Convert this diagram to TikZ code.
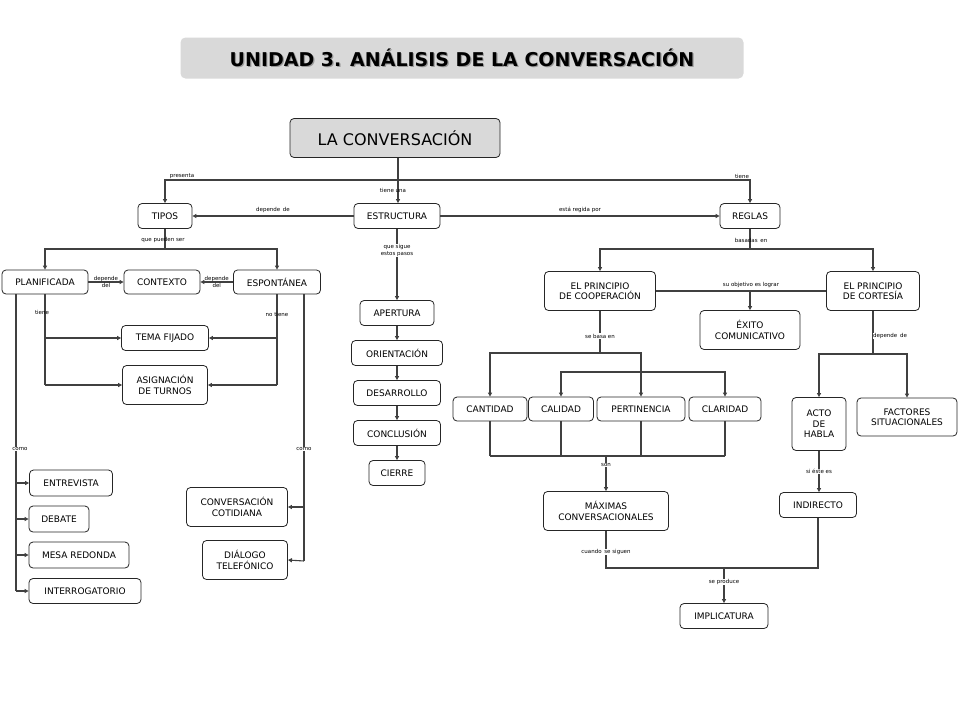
\documentclass[tikz,border=0pt]{standalone}
\usepackage{fontspec}
\setmainfont{DejaVu Sans}
\usetikzlibrary{arrows.meta}
\begin{document}
\begin{tikzpicture}[x=1pt,y=-1pt,
  bx/.style={draw=black!85,line width=0.8pt,rounded corners=4pt,fill=white,align=center,
    font=\fontsize{9}{10.5}\selectfont,inner sep=1pt},
  ln/.style={draw=black!75,line width=1.1pt},
  arr/.style={ln,-{Triangle[length=4pt,width=4pt]}},
  lb/.style={font=\fontsize{5.5}{6.5}\selectfont,inner sep=0.5pt,align=center}]
\useasboundingbox (0,0) rectangle (960,720);
\fill[white] (0,0) rectangle (960,720);
% title
\node[fill=black!15,rounded corners=5pt,minimum width=563,minimum height=41] (tb) at (462,58) {};
\node[text=black!40,font=\fontsize{19}{22}\bfseries\selectfont] at (463.2,59.2) {UNIDAD 3. ANÁLISIS DE LA CONVERSACIÓN};
\node[font=\fontsize{19}{22}\bfseries\selectfont] (title) at (462,58) {UNIDAD 3. ANÁLISIS DE LA CONVERSACIÓN};
\node[bx,fill=black!15,font=\fontsize{16}{18}\selectfont,minimum width=210,minimum height=39] (conv) at (395,138) {LA CONVERSACIÓN};
% level 1
\node[bx,minimum width=54,minimum height=25] (tipos) at (165,216) {TIPOS};
\node[bx,minimum width=86,minimum height=25] (est) at (397,216) {ESTRUCTURA};
\node[bx,minimum width=60,minimum height=25] (reg) at (750,216) {REGLAS};
% left
\node[bx,minimum width=86,minimum height=24] (plan) at (45,282) {PLANIFICADA};
\node[bx,minimum width=76,minimum height=24] (ctx) at (162,282) {CONTEXTO};
\node[bx,minimum width=87,minimum height=24] (esp) at (277,282) {ESPONTÁNEA};
\node[bx,minimum width=87,minimum height=25] (tema) at (165,338) {TEMA FIJADO};
\node[bx,minimum width=85,minimum height=39] (asig) at (165,385) {ASIGNACIÓN\\DE TURNOS};
\node[bx,minimum width=83,minimum height=26] (entr) at (71,483) {ENTREVISTA};
\node[bx,minimum width=60,minimum height=26] (deb) at (59,519) {DEBATE};
\node[bx,minimum width=100,minimum height=26] (mesa) at (79,555) {MESA REDONDA};
\node[bx,minimum width=112,minimum height=25] (inte) at (85,591) {INTERROGATORIO};
\node[bx,minimum width=101,minimum height=39] (coti) at (237,507) {CONVERSACIÓN\\COTIDIANA};
\node[bx,minimum width=85,minimum height=39] (dial) at (245,560) {DIÁLOGO\\TELEFÓNICO};
% middle
\node[bx,minimum width=74,minimum height=25] (ape) at (397,313) {APERTURA};
\node[bx,minimum width=91,minimum height=25] (ori) at (397,353) {ORIENTACIÓN};
\node[bx,minimum width=87,minimum height=25] (des) at (397,393) {DESARROLLO};
\node[bx,minimum width=87,minimum height=25] (con) at (397,433) {CONCLUSIÓN};
\node[bx,minimum width=56,minimum height=25] (cie) at (397,473) {CIERRE};
% right
\node[bx,minimum width=111,minimum height=39] (coop) at (600,291) {EL PRINCIPIO\\DE COOPERACIÓN};
\node[bx,minimum width=100,minimum height=39] (exi) at (750,330) {ÉXITO\\COMUNICATIVO};
\node[bx,minimum width=93,minimum height=39] (cort) at (873,291) {EL PRINCIPIO\\DE CORTESÍA};
\node[bx,minimum width=74,minimum height=24] (cant) at (490,409) {CANTIDAD};
\node[bx,minimum width=65,minimum height=24] (cali) at (561,409) {CALIDAD};
\node[bx,minimum width=88,minimum height=24] (pert) at (641,409) {PERTINENCIA};
\node[bx,minimum width=72,minimum height=24] (clar) at (725,409) {CLARIDAD};
\node[bx,minimum width=54,minimum height=53] (acto) at (819,424) {ACTO\\DE\\HABLA};
\node[bx,minimum width=100,minimum height=38] (fact) at (907,417) {FACTORES\\SITUACIONALES};
\node[bx,minimum width=125,minimum height=39] (max) at (606,511) {MÁXIMAS\\CONVERSACIONALES};
\node[bx,minimum width=77,minimum height=25] (ind) at (818,505) {INDIRECTO};
\node[bx,minimum width=88,minimum height=25] (impl) at (724,616) {IMPLICATURA};
% top connectors
\coordinate (j1) at (398,180);
\draw[ln] (conv.south -| j1) -- (j1);
\draw[arr] (j1) -| (tipos.north);
\draw[arr] (j1) -| (reg.north);
\draw[arr] (j1) -- (est.north -| j1);
\node[lb] at (182,176) {presenta};
\node[lb] at (393,190) {tiene una};
\node[lb] at (742,176) {tiene};
\draw[arr] (est.west) -- (tipos.east) node[lb,midway,above=2pt] {depende\enspace de};
\draw[arr] (est.east) -- (reg.west) node[lb,midway,above=2pt] {está regida por};
% tipos
\coordinate (j2) at (165,249);
\draw[ln] (tipos.south) -- (j2);
\draw[arr] (j2) -| (plan.north);
\draw[arr] (j2) -| (esp.north);
\node[lb] at (163,240) {que pueden ser};
\draw[arr] (plan.east) -- (ctx.west) node[lb,midway] {depende\\del};
\draw[arr] (esp.west) -- (ctx.east) node[lb,midway] {depende\\del};
\coordinate (pl) at (45,385);
\draw[ln] (plan.south -| pl) -- (pl);
\draw[arr] (pl |- tema.west) -- (tema.west);
\draw[arr] (pl) -- (asig.west);
\node[lb] at (42,312) {tiene};
\coordinate (es) at (277,385);
\draw[ln] (esp.south -| es) -- (es);
\draw[arr] (es |- tema.east) -- (tema.east);
\draw[arr] (es) -- (asig.east);
\node[lb] at (277,314) {no tiene};
\coordinate (pc) at (16,591);
\draw[ln] (plan.south -| pc) -- (pc);
\foreach \n in {entr,deb,mesa,inte} \draw[arr] (pc |- \n.west) -- (\n.west);
\node[lb,fill=white] at (20,449) {como};
\coordinate (ec) at (304,561);
\draw[ln] (esp.south -| ec) -- (ec);
\draw[arr] (ec |- coti.east) -- (coti.east);
\draw[arr] (ec) -- (dial.east);
\node[lb,fill=white] at (304,449) {como};
% estructura
\draw[arr] (est.south) -- (ape.north) node[lb,pos=0.3,fill=white] {que sigue\\estos pasos};
\draw[arr] (ape) -- (ori);
\draw[arr] (ori) -- (des);
\draw[arr] (des) -- (con);
\draw[arr] (con) -- (cie);
% reglas
\coordinate (j3) at (750,249);
\draw[ln] (reg.south) -- (j3);
\draw[arr] (j3) -| (coop.north);
\draw[arr] (j3) -| (cort.north);
\node[lb] at (751,240) {basadas\enspace en};
\draw[ln] (coop.east) -- (cort.west);
\draw[arr] (exi.north |- coop.east) -- (exi.north);
\node[lb] at (751,285) {su objetivo es lograr};
% cooperacion
\coordinate (j4) at (600,353);
\draw[ln] (coop.south) -- (j4);
\draw[arr] (j4) -| (cant.north);
\draw[arr] (j4) -| (pert.north);
\coordinate (j5) at (600,372);
\draw[arr] (j5) -| (cali.north);
\draw[arr] (j5) -| (clar.north);
\node[lb,fill=white] at (600,336) {se basa en};
\coordinate (j6) at (606,456);
\foreach \n in {cant,cali,pert,clar} \draw[ln] (\n.south) -- (\n.south |- j6);
\draw[ln] (cant.south |- j6) -- (clar.south |- j6);
\draw[arr] (j6) -- (max.north);
\node[lb,fill=white] at (606,465) {son};
% cortesia
\coordinate (j7) at (873,354);
\draw[ln] (cort.south) -- (j7);
\draw[arr] (j7) -| (acto.north);
\draw[arr] (j7) -| (fact.north);
\node[lb,fill=white] at (890,336) {depende\enspace de};
\draw[arr] (acto.south) -- (acto.south |- ind.north) node[lb,midway,fill=white] {si éste es};
% implicatura
\coordinate (j8) at (724,568);
\draw[ln] (max.south) |- (j8);
\draw[ln] (ind.south) |- (j8);
\draw[arr] (j8) -- (impl.north) node[lb,pos=0.4,fill=white] {se produce};
\node[lb,fill=white] at (606,552) {cuando\enspace se siguen};
\end{tikzpicture}
\end{document}
